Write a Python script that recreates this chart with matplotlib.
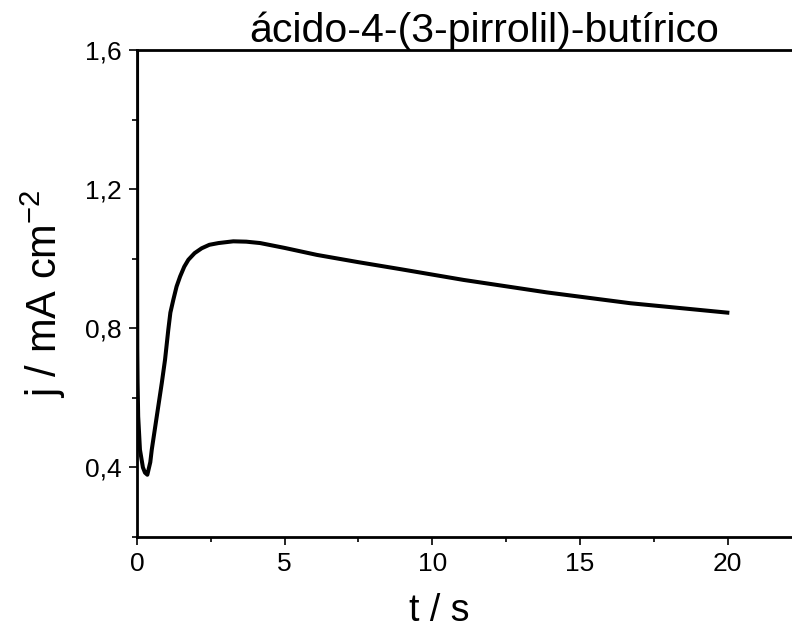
import matplotlib
matplotlib.use("Agg")
import matplotlib.pyplot as plt
from matplotlib.ticker import MultipleLocator, FuncFormatter

plt.rcParams['font.family'] = ['Liberation Sans', 'DejaVu Sans']
plt.rcParams['mathtext.fontset'] = 'custom'
plt.rcParams['mathtext.rm'] = 'Liberation Sans'
plt.rcParams['mathtext.default'] = 'regular'

# chronoamperometry transient
t = [0.0, 0.005, 0.01, 0.02, 0.04, 0.10, 0.20, 0.27, 0.35, 0.45, 0.50, 0.67,
     0.84, 0.95, 1.06, 1.13, 1.23, 1.34, 1.46, 1.60, 1.74, 1.95, 2.19, 2.45,
     2.76, 3.26, 3.70, 4.17, 5.0, 6.09, 7.5, 8.92, 11.06, 13.89, 16.71, 19.99]
j = [1.70, 1.00, 0.74, 0.644, 0.547, 0.451, 0.400, 0.385, 0.379, 0.415, 0.451, 0.547,
     0.643, 0.710, 0.796, 0.845, 0.882, 0.920, 0.949, 0.977, 0.997, 1.016, 1.030, 1.040,
     1.045, 1.050, 1.049, 1.045, 1.031, 1.011, 0.990, 0.970, 0.939, 0.903, 0.872, 0.845]

title = "ácido-4-(3-pirrolil)-butírico"

fig = plt.figure(figsize=(7.92, 6.35), dpi=100)
ax = fig.add_axes([137 / 792, 98 / 635, 694 / 792, 487 / 635])

ax.plot(t, j, color='black', lw=2.9, solid_joinstyle='round')

ax.set_xlim(0, 23.5)
ax.set_ylim(0.2, 1.6)
ax.xaxis.set_major_locator(MultipleLocator(5))
ax.xaxis.set_minor_locator(MultipleLocator(2.5))
ax.yaxis.set_major_locator(MultipleLocator(0.4))
ax.yaxis.set_minor_locator(MultipleLocator(0.2))
ax.yaxis.set_major_formatter(FuncFormatter(lambda v, p: f"{v:.1f}".replace('.', ',')))

for s in ax.spines.values():
    s.set_linewidth(2.0)
ax.tick_params(which='major', direction='out', length=6, width=1.2, labelsize=19, pad=5)
ax.tick_params(which='minor', direction='out', length=3.5, width=1.2)

ax.set_xlabel("t / s", fontsize=27, labelpad=12, x=0.435)
ax.set_ylabel("j / mA cm$^{-2}$", fontsize=30, labelpad=12)
ax.set_title(title, fontsize=29.5, pad=6)

fig.savefig("out.png", dpi=100)
